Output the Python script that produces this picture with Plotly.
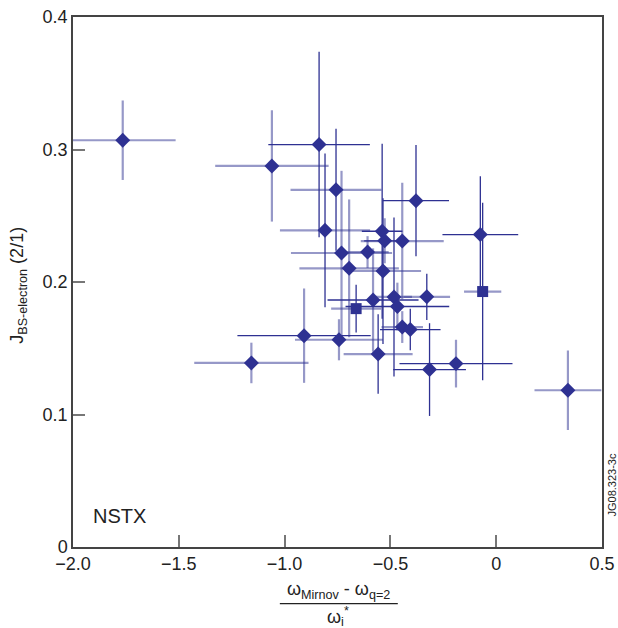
#import the necessary packages
import numpy as np
import plotly.graph_objects as go

#data
freq_shift = [-1.765, -1.060, -0.837, -0.757, -0.809, -0.731, -0.695, -0.608, -0.539, -0.527,
              -0.444, -0.379, -0.075, -0.535, -0.582, -0.483, -0.467, -0.328, -0.662, -0.064,
              -0.908, -0.743, -1.157, -0.444, -0.406, -0.558, -0.315, -0.190, 0.339]
j_bs = [0.3070, 0.2876, 0.3037, 0.2696, 0.2390, 0.2219, 0.2103, 0.2226, 0.2383, 0.2311,
        0.2309, 0.2614, 0.2358, 0.2083, 0.1864, 0.1887, 0.1815, 0.1888, 0.1799, 0.1928,
        0.1595, 0.1564, 0.1389, 0.1660, 0.1641, 0.1456, 0.1339, 0.1384, 0.1183]
freq_err = [0.250, 0.268, 0.240, 0.215, 0.213, 0.239, 0.235, 0.100, 0.096, 0.097,
            0.196, 0.156, 0.179, 0.180, 0.215, 0.085, 0.245, 0.110, 0.118, 0.088,
            0.315, 0.208, 0.270, 0.098, 0.143, 0.163, 0.172, 0.267, 0.158]
j_err = [0.030, 0.042, 0.070, 0.046, 0.058, 0.062, 0.052, 0.012, 0.066, 0.017,
         0.044, 0.042, 0.044, 0.055, 0.039, 0.060, 0.018, 0.0175, 0.018, 0.067,
         0.0356, 0.0155, 0.0153, 0.012, 0.0157, 0.030, 0.035, 0.018, 0.030]
#error source per point: "A" or "B"
freq_err_src = ["B", "B", "A", "B", "B", "B", "B", "B", "A", "A",
                "B", "A", "A", "B", "A", "B", "A", "B", "B", "B",
                "A", "B", "B", "B", "A", "B", "A", "A", "B"]
j_err_src = ["B", "B", "A", "A", "A", "B", "B", "B", "A", "B",
             "B", "A", "A", "A", "B", "A", "B", "A", "A", "A",
             "B", "B", "B", "B", "A", "A", "A", "B", "B"]
#shot type: "d" diamond, "s" square
shot_type = ["d"] * 18 + ["s", "s"] + ["d"] * 9

x_ticks = [-2.0, -1.5, -1.0, -0.5, 0, 0.5]
x_tick_text = ["\u22122.0", "\u22121.5", "\u22121.0", "\u22120.5", "0", "0.5"]
y_ticks = [0, 0.1, 0.2, 0.3, 0.4]
y_tick_text = ["0", "0.1", "0.2", "0.3", "0.4"]

navy = "#2e3192"
bar_style = {"A": dict(color=navy, thickness=1.3),
             "B": dict(color="rgba(46,49,146,0.5)", thickness=2.2)}
font = "Liberation Sans, Arial, Helvetica, sans-serif"

x = np.array(freq_shift)
y = np.array(j_bs)
xe = np.array(freq_err)
ye = np.array(j_err)
xs = np.array(freq_err_src)
ys = np.array(j_err_src)
kind = np.array(shot_type)

fig = go.Figure()

#error bars first, grouped by source combination
for sx in ["B", "A"]:
    for sy in ["B", "A"]:
        m = (xs == sx) & (ys == sy)
        if not m.any():
            continue
        fig.add_trace(go.Scatter(
            x=x[m], y=y[m], mode="markers",
            marker=dict(size=1, opacity=0),
            error_x=dict(type="data", array=xe[m], width=0, **bar_style[sx]),
            error_y=dict(type="data", array=ye[m], width=0, **bar_style[sy]),
            hoverinfo="skip"))

#markers on top
for k, sym, size in [("d", "diamond", 11.5), ("s", "square", 11)]:
    m = kind == k
    fig.add_trace(go.Scatter(x=x[m], y=y[m], mode="markers",
                             marker=dict(symbol=sym, size=size, color=navy, line=dict(width=0))))

axis_style = dict(ticks="inside", ticklen=12, tickwidth=1.5, tickcolor="#777",
                  showline=True, linecolor="#444", linewidth=1.5, mirror=True,
                  showgrid=False, zeroline=False, automargin=False, ticklabeloverflow="allow",
                  tickfont=dict(family=font, size=18, color="#222"))
fig.update_xaxes(range=[-2.0, 0.5], tickvals=x_ticks, ticktext=x_tick_text, **axis_style)
fig.update_yaxes(range=[0, 0.4], tickvals=y_ticks, ticktext=y_tick_text, **axis_style)

#axis titles and labels as annotations
anns = [
    dict(text="J<sub>BS-electron</sub> (2/1)", x=-0.103, y=0.494, textangle=-90,
         font=dict(size=18)),
    dict(text="\u03c9<sub>Mirnov</sub> - \u03c9<sub>q=2</sub>", x=0.5014, y=-0.083,
         font=dict(size=18)),
    dict(text="\u03c9<sub>i</sub><sup>*</sup>", x=0.5014, y=-0.131, font=dict(size=18)),
    dict(text="NSTX", x=0.087, y=0.058, font=dict(size=20)),
    dict(text="JG08.323-3c", x=1.018, y=0.117, textangle=-90, font=dict(size=11)),
]
for a in anns:
    a.update(xref="paper", yref="paper", showarrow=False, xanchor="center", yanchor="middle")
    a["font"].update(family=font, color="#222")
    fig.add_annotation(**a)

#fraction bar under the numerator
fig.add_shape(type="line", xref="paper", yref="paper", x0=0.391, x1=0.614, y0=-0.107, y1=-0.107,
              line=dict(color="#222", width=1.2))

fig.update_layout(width=618, height=628, showlegend=False,
                  margin=dict(l=73, r=16, t=17, b=81, autoexpand=False),
                  plot_bgcolor="white", paper_bgcolor="white",
                  font=dict(family=font))

#drop the default body margin so the figure sits at the window corner
fig.write_html("out.html", config={"displayModeBar": False},
               post_script="document.body.style.margin='0';document.body.style.overflow='hidden';")
